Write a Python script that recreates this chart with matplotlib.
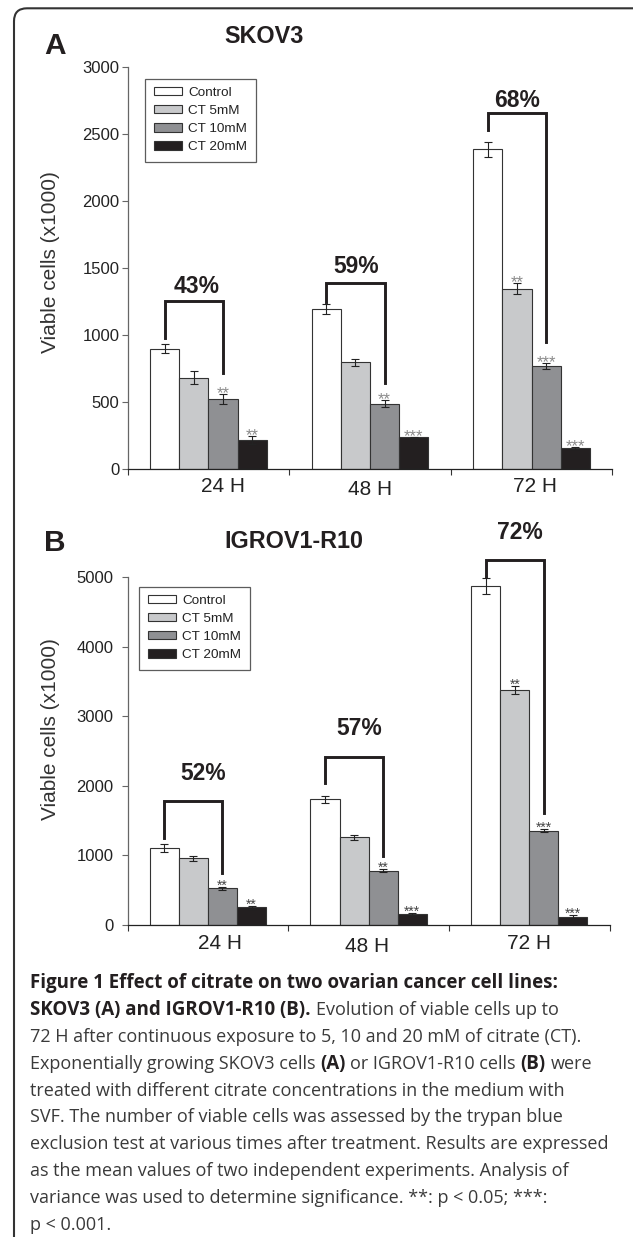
import numpy as np
import matplotlib
matplotlib.use('Agg')
import matplotlib.pyplot as plt
from matplotlib.patches import Patch, FancyBboxPatch
from matplotlib.transforms import offset_copy, IdentityTransform

W, H = 633, 1237

# --- data ---
groups = ['24 H', '48 H', '72 H']
series = ['Control', 'CT 5mM', 'CT 10mM', 'CT 20mM']
colors = ['#ffffff', '#c8c9cb', '#8f9093', '#231f20']

skov3_control = [896, 1191, 2383]
skov3_ct5 = [680, 794, 1343]
skov3_ct10 = [519, 486, 767]
skov3_ct20 = [211, 233, 154]
skov3_err_control = [31, 40, 56]
skov3_err_ct5 = [46, 27, 41]
skov3_err_ct10 = [37, 25, 22]
skov3_err_ct20 = [30, 7, 5]
skov3_stars_ct5 = ['', '', '**']
skov3_stars_ct10 = ['**', '**', '***']
skov3_stars_ct20 = ['**', '***', '***']
skov3_pct = ['43%', '59%', '68%']
skov3_bracket_top = [1250, 1383, 2652]
skov3_bracket_left = [973, 1246, 2527]
skov3_bracket_right = [716, 642, 948]
skov3_pct_x = [-0.074, 0.913, 1.910]
skov3_pct_y = [1362, 1511, 2746]

igrov_control = [1107, 1807, 4875]
igrov_ct5 = [959, 1261, 3379]
igrov_ct10 = [527, 781, 1356]
igrov_ct20 = [254, 163, 115]
igrov_err_control = [55, 50, 113]
igrov_err_ct5 = [34, 38, 57]
igrov_err_ct10 = [26, 24, 24]
igrov_err_ct20 = [20, 15, 35]
igrov_stars_ct5 = ['', '', '**']
igrov_stars_ct10 = ['**', '**', '***']
igrov_stars_ct20 = ['**', '***', '***']
igrov_pct = ['52%', '57%', '72%']
igrov_bracket_top = [1787, 2412, 5249]
igrov_bracket_left = [1247, 2038, 5009]
igrov_bracket_right = [743, 992, 1606]
igrov_pct_x = [-0.032, 0.944, 1.939]
igrov_pct_y = [2181, 2829, 5644]

chart_font = 'Liberation Sans'
ink = '#231f20'

fig = plt.figure(figsize=(W / 100, H / 100), dpi=100)
fig.patch.set_facecolor('white')


def px_rect(left, top, right, bottom):
    return [left / W, 1 - bottom / H, (right - left) / W, (bottom - top) / H]


def draw_panel(ax, values, errors, stars, ymax, yticks, star_style,
               b_top, b_left, b_right, pct, pct_x, pct_y, lab_dx, lab_dy,
               leg_anchor, tick_pad):
    bw = 0.181
    x = np.arange(len(groups))
    offsets = [-1.5 * bw, -0.5 * bw, 0.5 * bw, 1.5 * bw]
    for i in range(4):
        ax.bar(x + offsets[i], values[i], bw, color=colors[i], edgecolor='#333333',
               linewidth=0.8, zorder=2)
        ax.errorbar(x + offsets[i], values[i], yerr=errors[i], fmt='none', ecolor='#222222',
                    elinewidth=0.8, capsize=3, capthick=0.8, zorder=3)
        if stars[i] is not None:
            for g in range(len(groups)):
                if stars[i][g]:
                    ax.annotate(stars[i][g], (x[g] + offsets[i], values[i][g] + errors[i][g]),
                                xytext=(0, star_style['dy']), textcoords='offset points',
                                ha='center', va='baseline', fontsize=star_style['size'],
                                color=star_style['color'], family=chart_font, zorder=4)

    # brackets between control and CT 10mM
    for g in range(len(groups)):
        xl = x[g] + offsets[0]
        xr = x[g] + offsets[2]
        ax.plot([xl, xl, xr, xr], [b_left[g], b_top[g], b_top[g], b_right[g]],
                color=ink, linewidth=2.1, solid_joinstyle='miter', clip_on=False, zorder=5)
        ax.text(pct_x[g], pct_y[g], pct[g], ha='center', va='center', fontsize=16.5,
                fontweight='bold', color=ink, family=chart_font, clip_on=False)

    ax.set_xlim(-0.5, 2.5)
    ax.set_ylim(0, ymax)
    ax.set_yticks(yticks)
    ax.set_yticklabels([str(t) for t in yticks])
    ax.set_xticks([])
    ax.set_xticks([-0.5, 0.5, 1.5, 2.5], minor=True)
    ax.tick_params(axis='x', which='minor', length=4, width=0.8, color='#333333', direction='out')
    ax.tick_params(axis='y', length=4, width=0.8, color='#666666', direction='out',
                   labelsize=12, labelcolor='#222222', pad=tick_pad)
    for lab in ax.get_yticklabels():
        lab.set_family(chart_font)
    for side in ['top', 'right']:
        ax.spines[side].set_visible(False)
    ax.spines['left'].set_color('#666666')
    ax.spines['left'].set_linewidth(0.9)
    ax.spines['bottom'].set_color('#222222')
    ax.spines['bottom'].set_linewidth(0.9)

    for g in range(len(groups)):
        tr = offset_copy(ax.get_xaxis_transform(), fig=fig, x=lab_dx[g], y=lab_dy[g], units='dots')
        ax.text(x[g], 0, groups[g], transform=tr, ha='center', va='center', fontsize=15,
                color='#222222', family=chart_font)

    handles = [Patch(facecolor=colors[i], edgecolor='#333333', linewidth=0.8, label=series[i])
               for i in range(4)]
    leg = ax.legend(handles=handles, loc='upper left', bbox_to_anchor=leg_anchor,
                    prop={'family': chart_font, 'size': 9.7}, frameon=True, fancybox=False,
                    edgecolor='#333333', handlelength=2.1, handleheight=0.55,
                    handletextpad=0.48, labelspacing=0.45, borderpad=0.62, borderaxespad=0)
    leg.get_frame().set_linewidth(0.9)
    for t in leg.get_texts():
        t.set_color('#222222')


# Panel A
axA = fig.add_axes(px_rect(127.6, 66.7, 612.4, 468.7))
draw_panel(axA,
           [skov3_control, skov3_ct5, skov3_ct10, skov3_ct20],
           [skov3_err_control, skov3_err_ct5, skov3_err_ct10, skov3_err_ct20],
           [None, skov3_stars_ct5, skov3_stars_ct10, skov3_stars_ct20],
           3000, [0, 500, 1000, 1500, 2000, 2500, 3000],
           {'size': 12, 'color': '#8a8a8a', 'dy': -3},
           skov3_bracket_top, skov3_bracket_left, skov3_bracket_right,
           skov3_pct, skov3_pct_x, skov3_pct_y,
           [15, 0, 3], [-18, -20.6, -18], (0.0365, 0.970), 2)

# Panel B
axB = fig.add_axes(px_rect(127.6, 577.3, 609.6, 925))
draw_panel(axB,
           [igrov_control, igrov_ct5, igrov_ct10, igrov_ct20],
           [igrov_err_control, igrov_err_ct5, igrov_err_ct10, igrov_err_ct20],
           [None, igrov_stars_ct5, igrov_stars_ct10, igrov_stars_ct20],
           5000, [0, 1000, 2000, 3000, 4000, 5000],
           {'size': 10, 'color': '#444444', 'dy': -2},
           igrov_bracket_top, igrov_bracket_left, igrov_bracket_right,
           igrov_pct, igrov_pct_x, igrov_pct_y,
           [12, -2, 0], [-18.3, -21, -18.3], (0.0243, 0.973), 6)

# titles, panel letters, y labels
fig.text(55 / W, 1 - 46 / H, 'A', fontsize=21.5, fontweight='bold', color=ink,
         family=chart_font, ha='center', va='center')
fig.text(263.6 / W, 1 - 36.7 / H, 'SKOV3', fontsize=16.8, fontweight='bold', color=ink,
         family=chart_font, ha='center', va='center')
fig.text(55 / W, 1 - 542.5 / H, 'B', fontsize=21.5, fontweight='bold', color=ink,
         family=chart_font, ha='center', va='center')
fig.text(293.7 / W, 1 - 541.7 / H, 'IGROV1-R10', fontsize=16.8, fontweight='bold', color=ink,
         family=chart_font, ha='center', va='center')
fig.text(51 / W, 1 - 262 / H, 'Viable cells (x1000)', rotation=90, fontsize=15,
         color='#333333', family=chart_font, ha='center', va='center')
fig.text(51 / W, 1 - 729 / H, 'Viable cells (x1000)', rotation=90, fontsize=15,
         color='#333333', family=chart_font, ha='center', va='center')

# rounded frame around the figure (runs off the right and bottom edges)
frame = FancyBboxPatch((14, -60), 700, H - 8.3 + 60,
                       boxstyle='round,pad=0,rounding_size=13',
                       transform=IdentityTransform(), facecolor='none',
                       edgecolor='#333333', linewidth=1.5)
fig.add_artist(frame)

# caption
cap_font = 'Open Sans'
caption = [
    [('Figure 1 Effect of citrate on two ovarian cancer cell lines:', True)],
    [('SKOV3 (A) and IGROV1-R10 (B).', True), ('Evolution of viable cells up to', False)],
    [('72 H after continuous exposure to 5, 10 and 20 mM of citrate (CT).', False)],
    [('Exponentially growing SKOV3 cells', False), ('(A)', True), ('or IGROV1-R10 cells', False),
     ('(B)', True), ('were', False)],
    [('treated with different citrate concentrations in the medium with', False)],
    [('SVF. The number of viable cells was assessed by the trypan blue', False)],
    [('exclusion test at various times after treatment. Results are expressed', False)],
    [('as the mean values of two independent experiments. Analysis of', False)],
    [('variance was used to determine significance. **: p < 0.05; ***:', False)],
    [('p < 0.001.', False)],
]

renderer = fig.canvas.get_renderer()


def text_width(s, bold, size):
    t = fig.text(0, 0, s, family=cap_font, fontsize=size,
                 fontweight='bold' if bold else 'normal')
    w = t.get_window_extent(renderer).width
    t.remove()
    return w


# font sizes chosen so the reference line lengths are kept
size_bold = 10 * 531 / text_width(caption[0][0][0], True, 10)
size_reg = 10 * 581 / text_width(caption[6][0][0], False, 10)
space_w = text_width('x x', False, size_reg) - text_width('xx', False, size_reg)

for i, runs in enumerate(caption):
    y = 988.3 + i * 26.8
    x = 30.3
    for s, bold in runs:
        t = fig.text(x / W, 1 - y / H, s, family=cap_font,
                     fontsize=size_bold if bold else size_reg,
                     fontweight='bold' if bold else 'normal',
                     color=ink if bold else '#3a3a3a', ha='left', va='baseline')
        x += t.get_window_extent(renderer).width + space_w

fig.savefig('out.png', dpi=100, facecolor='white')
